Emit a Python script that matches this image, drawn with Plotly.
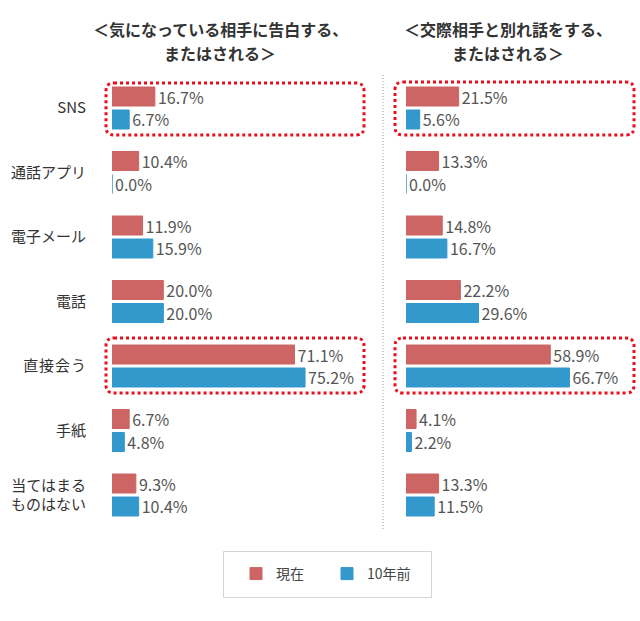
import plotly.graph_objects as go

categories = ["SNS", "通話アプリ", "電子メール", "電話", "直\u200a接\u200a会\u200aう", "手紙", "当てはまる<br>ものはない"]
series_names = ["現在", "10年前"]
left_now = [16.7, 10.4, 11.9, 20.0, 71.1, 6.7, 9.3]
left_past = [6.7, 0.0, 15.9, 20.0, 75.2, 4.8, 10.4]
right_now = [21.5, 13.3, 14.8, 22.2, 58.9, 4.1, 13.3]
right_past = [5.6, 0.0, 16.7, 29.6, 66.7, 2.2, 11.5]
titles = [["＜気になっている相手に告白する、", "またはされる＞"], ["＜交際相手と別れ話をする、", "またはされる＞"]]

W, H = 640, 621
RED = "#cd6565"
BLUE = "#3398cc"
DOT = "#e8101c"
FONT = "Noto Sans CJK JP"


def X(px):
    return px / W


def Y(py):
    return 1 - py / H


def rrect(x0, y0, x1, y1, r):
    pts = [
        ("M", [(x0 + r, y0)]), ("L", [(x1 - r, y0)]), ("Q", [(x1, y0), (x1, y0 + r)]),
        ("L", [(x1, y1 - r)]), ("Q", [(x1, y1), (x1 - r, y1)]), ("L", [(x0 + r, y1)]),
        ("Q", [(x0, y1), (x0, y1 - r)]), ("L", [(x0, y0 + r)]), ("Q", [(x0, y0), (x0 + r, y0)]),
    ]
    s = ""
    for cmd, ps in pts:
        s += cmd + " " + " ".join(f"{X(a):.5f},{Y(b):.5f}" for a, b in ps) + " "
    return s + "Z"


def fmt(v):
    return [f"{x:.1f}%" for x in v]


fig = go.Figure()
panels = [("x", "y", left_now, left_past, True), ("x2", "y2", right_now, right_past, False)]
for xa, ya, now, past, show in panels:
    for name, vals, col in [(series_names[0], now, RED), (series_names[1], past, BLUE)]:
        fig.add_trace(go.Bar(
            x=vals, y=categories, orientation="h", name=name,
            marker=dict(color=col, line=dict(color=col, width=1)),
            text=fmt(vals), textposition="outside", cliponaxis=False,
            constraintext="none",
            textfont=dict(family=FONT, size=16, color="#555555"),
            xaxis=xa, yaxis=ya, showlegend=show, legendgroup=name,
            hoverinfo="skip",
        ))

ydom = [Y(527.25), Y(75.75)]
common_y = dict(domain=ydom, type="category", categoryorder="array", categoryarray=categories,
                range=[6.5, -0.5], showgrid=False, zeroline=False, showline=False, ticks="")
fig.update_layout(
    width=W, height=H,
    margin=dict(l=0, r=0, t=0, b=0),
    paper_bgcolor="white", plot_bgcolor="white",
    barmode="group", bargap=0.287, bargroupgap=0.174,
    font=dict(family=FONT, color="#333333"),
    xaxis=dict(domain=[X(112), X(372)], range=[0, 260 / 2.567], visible=False, fixedrange=True),
    xaxis2=dict(domain=[X(406), X(636)], range=[0, 230 / 2.45], visible=False, fixedrange=True),
    yaxis=dict(anchor="x", **common_y, showticklabels=True, ticklabelstandoff=25,
               tickfont=dict(family=FONT, size=15, color="#333333")),
    yaxis2=dict(anchor="x2", **common_y, showticklabels=False),
    legend=dict(orientation="h", x=X(327), xanchor="center", y=Y(574), yanchor="middle",
                font=dict(family=FONT, size=14, color="#444444"), bgcolor="rgba(0,0,0,0)",
                entrywidth=46, traceorder="normal"),
    showlegend=True,
)

annotations = []
for cx, lines in zip([220, 508], titles):
    for py, line in zip([29.5, 53.5], lines):
        annotations.append(dict(text="<b>" + line + "</b>", x=X(cx), y=Y(py), xref="paper", yref="paper",
                                xanchor="center", yanchor="middle", showarrow=False, borderpad=0,
                                font=dict(family=FONT, size=16, color="#333333")))
fig.update_layout(annotations=annotations)

shapes = [
    dict(type="line", xref="paper", yref="paper", x0=X(383), x1=X(383), y0=Y(75), y1=Y(530),
         line=dict(color="#999999", width=1, dash="1px,2px")),
    dict(type="rect", xref="paper", yref="paper", x0=X(223.5), x1=X(431.5), y0=Y(551.5), y1=Y(597.5),
         line=dict(color="#d4d4d4", width=1)),
]
for (x0, y0, x1, y1) in [(106, 83, 364, 135), (106, 338, 364, 393), (395, 82, 634, 135), (395, 338, 634, 393)]:
    shapes.append(dict(type="path", xref="paper", yref="paper", path=rrect(x0, y0, x1, y1, 8),
                       line=dict(color=DOT, width=3, dash="dot")))
fig.update_layout(shapes=shapes)

fig.write_html("out.html")
